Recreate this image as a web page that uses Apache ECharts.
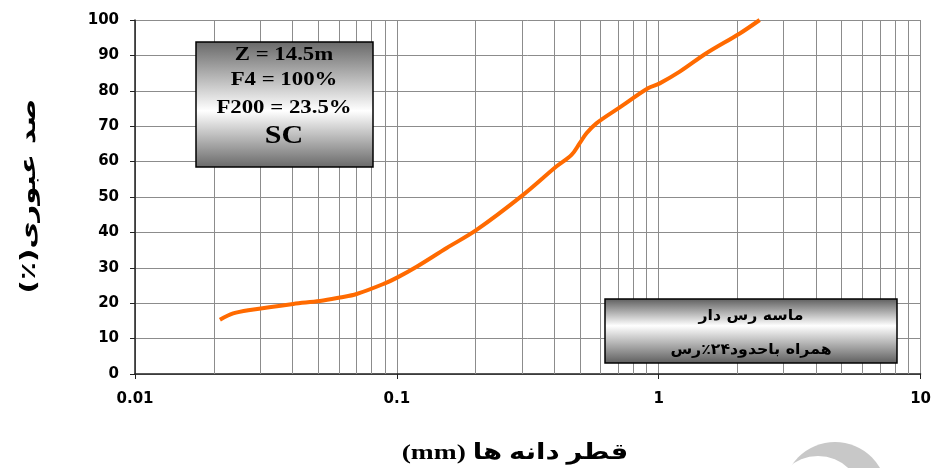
<!DOCTYPE html>
<html>
<head>
<meta charset="utf-8">
<script src="https://cdn.jsdelivr.net/npm/echarts@6/dist/echarts.min.js"></script>
<style>
  html, body { margin: 0; padding: 0; background: #fff; }
  #chart { width: 934px; height: 468px; }
</style>
</head>
<body>
<div id="chart"></div>
<script>
// Grain-size distribution curve (sieve + hydrometer)
const grainSize = [0.0211, 0.0237, 0.0275, 0.0402, 0.0508, 0.0606, 0.0702, 0.090,
  0.1006, 0.119, 0.155, 0.2015, 0.3035, 0.4064, 0.4645, 0.4993, 0.530, 0.578, 0.710, 0.910,
  1.009, 1.203, 1.52, 2.04, 2.43];
const percentPassing = [15.3, 17.1, 18.1, 19.8, 20.6, 21.6, 22.6, 25.6,
  27.3, 30.3, 35.6, 40.7, 50.6, 58.6, 61.9, 65.2, 68.0, 70.8, 75.3, 80.7,
  82.1, 85.4, 90.6, 96.2, 100];

// Intermediate log-cycle grid lines (2..9 within each decade)
const minorGrid = [0.02, 0.03, 0.04, 0.05, 0.06, 0.07, 0.08, 0.09,
  0.2, 0.3, 0.4, 0.5, 0.6, 0.7, 0.8, 0.9,
  2, 3, 4, 5, 6, 7, 8, 9];

const sampleInfo = ['Z = 14.5m', 'F4 = 100%', 'F200 = 23.5%', 'SC'];
const soilDesc = ['ماسه رس دار', 'همراه باحدود۲۴٪رس'];
const xTitle = '(mm) قطر دانه ها';
const yTitle = '(٪)صد عبوری';

const chart = echarts.init(document.getElementById('chart'), null, { renderer: 'canvas' });

const gridColor = '#8c8c8c';
const labelFont = { color: '#000', fontFamily: 'DejaVu Sans', fontWeight: 'bold', fontSize: 15 };
const serifBold = (px) => 'bold ' + px + 'px "Liberation Serif", "Times New Roman", serif';

function grayBand(dark, mid) {
  return new echarts.graphic.LinearGradient(0, 0, 0, 1, [
    { offset: 0, color: dark },
    { offset: mid, color: '#ffffff' },
    { offset: 1, color: dark }
  ]);
}

function boxText(x, y, text, font, sx) {
  return { type: 'text', x: x, y: y, scaleX: sx, z: 12,
    style: { text: text, fill: '#000', font: font, align: 'center', verticalAlign: 'middle' } };
}

chart.setOption({
  animation: false,
  backgroundColor: '#ffffff',
  grid: { left: 135, right: 12, top: 20, bottom: 94, containLabel: false },
  xAxis: {
    type: 'log',
    logBase: 10,
    min: 0.01,
    max: 10,
    axisLine: { show: true, onZero: false, lineStyle: { color: '#222', width: 1.5 } },
    axisTick: { show: true, inside: false, length: 5, lineStyle: { color: '#222' } },
    axisLabel: Object.assign({ margin: 18 }, labelFont),
    splitLine: { show: true, lineStyle: { color: gridColor, width: 1 } }
  },
  yAxis: {
    type: 'value',
    min: 0,
    max: 100,
    interval: 10,
    axisLine: { show: true, lineStyle: { color: '#222', width: 1.5 } },
    axisTick: { show: true, inside: false, length: 5, lineStyle: { color: '#222' } },
    axisLabel: Object.assign({ margin: 16 }, labelFont),
    splitLine: { show: true, lineStyle: { color: gridColor, width: 1 } }
  },
  series: [{
    type: 'line',
    data: grainSize.map((d, i) => [d, percentPassing[i]]),
    showSymbol: false,
    smooth: 0.35,
    lineStyle: { color: '#ff6a00', width: 4 },
    z: 5,
    markLine: {
      silent: true,
      symbol: 'none',
      label: { show: false },
      lineStyle: { color: gridColor, width: 1, type: 'solid' },
      data: minorGrid.map(v => ({ xAxis: v })),
      z: 1
    }
  }],
  graphic: [
    // sample summary box
    {
      type: 'group', x: 196, y: 42, z: 10,
      children: [
        { type: 'rect', z: 11, shape: { x: 0, y: 0, width: 177, height: 125 },
          style: { fill: grayBand('#686868', 0.55), stroke: '#000', lineWidth: 1.5 } },
        boxText(88, 13, sampleInfo[0], serifBold(19), 1.2),
        boxText(88, 38, sampleInfo[1], serifBold(19), 1.2),
        boxText(88, 66, sampleInfo[2], serifBold(19), 1.2),
        boxText(88, 95, sampleInfo[3], serifBold(25), 1.2)
      ]
    },
    // soil description box
    {
      type: 'group', x: 605, y: 299, z: 10,
      children: [
        { type: 'rect', z: 11, shape: { x: 0, y: 0, width: 292, height: 64 },
          style: { fill: grayBand('#5c5c5c', 0.42), stroke: '#000', lineWidth: 1.5 } },
        boxText(146, 17, soilDesc[0], 'bold 15px "DejaVu Sans", sans-serif', 1.05),
        boxText(146, 51, soilDesc[1], 'bold 15px "DejaVu Sans", sans-serif', 1.05)
      ]
    },
    // x-axis title
    {
      type: 'text', x: 515, y: 453, z: 10, scaleX: 1.25,
      style: { text: xTitle, fill: '#000', font: 'bold 22px "Liberation Serif", "DejaVu Sans", serif', align: 'center', verticalAlign: 'middle' }
    },
    // y-axis title, reading bottom to top
    {
      type: 'text', x: 30, y: 196, z: 10, rotation: Math.PI / 2, scaleX: 1.4,
      style: { text: yTitle, fill: '#000', font: 'bold 21px "DejaVu Sans", sans-serif', align: 'center', verticalAlign: 'middle' }
    },
    // corner logo mark
    {
      type: 'group', z: 0,
      children: [
        { type: 'circle', shape: { cx: 835, cy: 494, r: 52 }, style: { fill: '#c8c8c8' } },
        { type: 'circle', shape: { cx: 818, cy: 500, r: 44 }, style: { fill: '#ffffff' } }
      ]
    }
  ]
});
</script>
</body>
</html>
